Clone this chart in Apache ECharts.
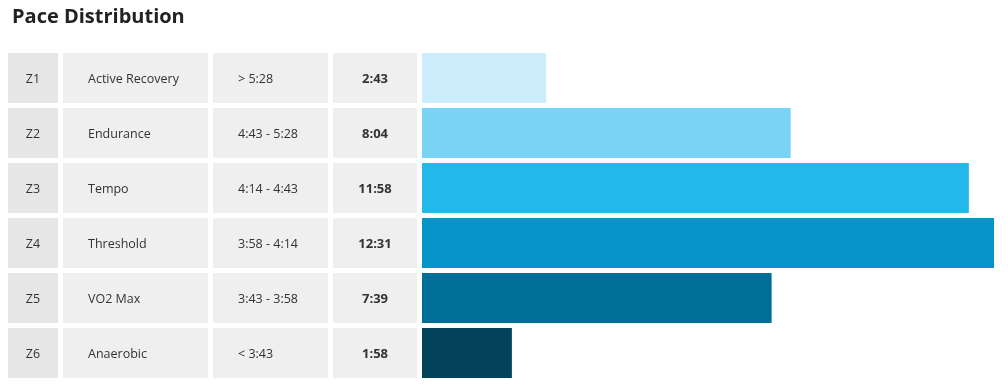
<!DOCTYPE html>
<html>
<head>
<meta charset="utf-8">
<script src="https://cdn.jsdelivr.net/npm/echarts@6/dist/echarts.min.js"></script>
<style>
html,body{margin:0;padding:0;background:#fff;}
#c{width:1008px;height:389px;}
</style>
</head>
<body>
<div id="c"></div>
<script>
const zones = ['Z1','Z2','Z3','Z4','Z5','Z6'];
const zoneNames = ['Active Recovery','Endurance','Tempo','Threshold','VO2 Max','Anaerobic'];
const paceRanges = ['> 5:28','4:43 - 5:28','4:14 - 4:43','3:58 - 4:14','3:43 - 3:58','< 3:43'];
const times = ['2:43','8:04','11:58','12:31','7:39','1:58'];
const colors = ['#cbedfc','#79d3f4','#24b9ec','#0494c8','#006f98','#03435a'];

function toSec(t){const p=t.split(':');return (+p[0])*60+(+p[1]);}
const seconds = times.map(toSec);
const maxSec = Math.max.apply(null, seconds);

const chart = echarts.init(document.getElementById('c'), null, {renderer:'canvas'});
const FONT = 'Open Sans';
const TOP = 50.5, H = 330;
const cols = [
  {left:8, width:50, bg:'#e6e6e6', texts:zones, align:'center'},
  {left:63, width:145, bg:'#efefef', texts:zoneNames, align:'left'},
  {left:213, width:115, bg:'#efefef', texts:paceRanges, align:'left'},
  {left:333, width:84, bg:'#efefef', texts:times, align:'center', bold:true},
];
const grids = [], xAxes = [], yAxes = [], series = [];
cols.forEach((c,i)=>{
  grids.push({left:c.left, width:c.width, top:TOP, height:H});
  xAxes.push({type:'value', gridIndex:i, min:0, max:1, show:false});
  yAxes.push({type:'category', gridIndex:i, data:zones, inverse:true, show:false});
  series.push({
    type:'bar', xAxisIndex:i, yAxisIndex:i, barWidth:50, silent:true,
    data:c.texts.map(()=>1),
    itemStyle:{color:c.bg},
    label:{
      show:true,
      position: c.align==='center' ? 'inside' : 'insideLeft',
      distance: 25,
      offset:[0,1],
      formatter:(p)=>c.texts[p.dataIndex],
      color:'#333', fontSize: c.bold ? 13 : 12.5, fontFamily:FONT,
      fontWeight: c.bold ? 'bold' : 'normal'
    }
  });
});
const bi = cols.length;
grids.push({left:422, width:572, top:TOP, height:H});
xAxes.push({type:'value', gridIndex:bi, min:0, max:maxSec, show:false});
yAxes.push({type:'category', gridIndex:bi, data:zones, inverse:true, show:false});
series.push({
  type:'bar', xAxisIndex:bi, yAxisIndex:bi, barWidth:50, silent:true,
  data: seconds.map((v,i)=>({value:v, itemStyle:{color:colors[i]}}))
});

chart.setOption({
  animation:false,
  title:{text:'Pace Distribution', left:7, top:2,
    textStyle:{fontFamily:FONT, fontSize:20, fontWeight:'bold', color:'#222'}},
  grid:grids, xAxis:xAxes, yAxis:yAxes, series:series
});
</script>
</body>
</html>
